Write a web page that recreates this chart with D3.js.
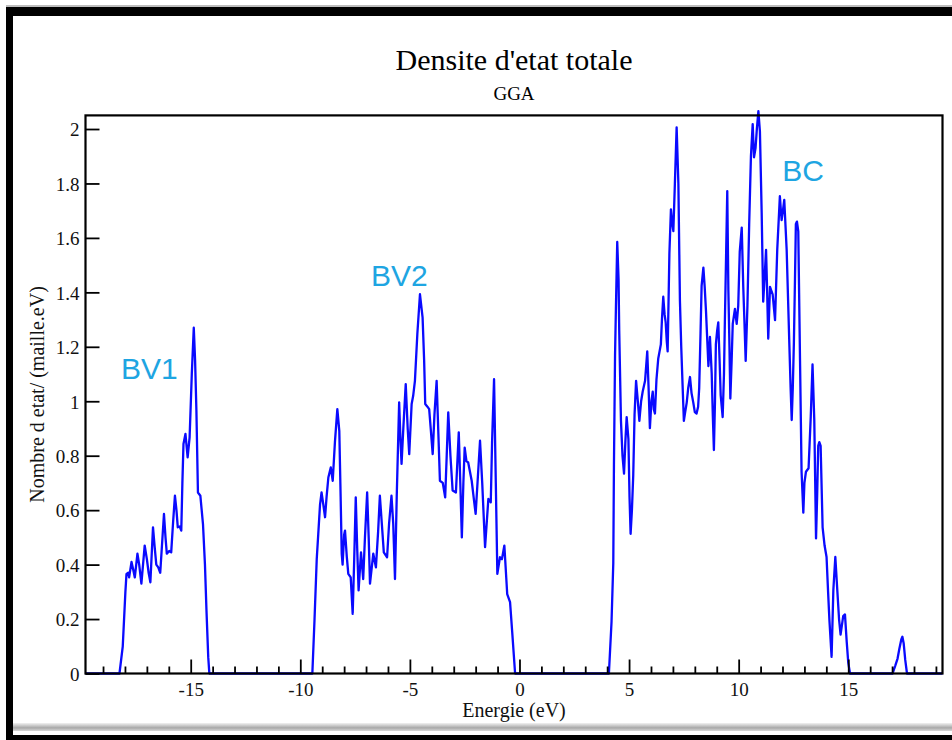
<!DOCTYPE html>
<html>
<head>
<meta charset="utf-8">
<script src="https://cdn.jsdelivr.net/npm/d3@7"></script>
<style>
  html, body { margin: 0; padding: 0; background: #fff; }
  svg { display: block; }
</style>
</head>
<body>
<svg id="chart" width="952" height="740"></svg>
<script>
// Total density of states (GGA), states / (cell.eV) versus energy (eV)

// Lower valence band
const bandBV1 = [
  [-18.25,0],[-18.1,0.1],[-17.98,0.3],[-17.93,0.366],[-17.85,0.37],[-17.81,0.353],
  [-17.70,0.41],[-17.62,0.38],[-17.55,0.353],[-17.43,0.44],[-17.35,0.40],[-17.25,0.33],
  [-17.1,0.47],[-17.0,0.42],[-16.92,0.37],[-16.84,0.335],[-16.72,0.537],[-16.65,0.47],
  [-16.57,0.40],[-16.48,0.39],[-16.39,0.37],[-16.22,0.586],[-16.15,0.50],[-16.09,0.44],
  [-15.98,0.45],[-15.89,0.445],[-15.80,0.56],[-15.72,0.653],[-15.65,0.60],[-15.59,0.537],
  [-15.5,0.54],[-15.43,0.525],[-15.38,0.70],[-15.33,0.843],[-15.24,0.88],[-15.14,0.794],
  [-15.05,0.867],[-14.95,1.10],[-14.86,1.27],[-14.80,1.15],[-14.74,0.965],[-14.67,0.665],
  [-14.56,0.653],[-14.44,0.549],[-14.35,0.40],[-14.28,0.23],[-14.20,0.06],[-14.15,0]
];

// Upper valence band
const bandBV2 = [
  [-9.45,0],[-9.35,0.2],[-9.25,0.42],[-9.18,0.513],[-9.1,0.62],[-9.03,0.665],[-8.95,0.62],
  [-8.87,0.574],[-8.80,0.65],[-8.72,0.72],[-8.61,0.757],[-8.52,0.708],[-8.42,0.85],
  [-8.31,0.971],[-8.22,0.89],[-8.16,0.65],[-8.11,0.44],[-8.07,0.40],[-8.0,0.51],
  [-7.96,0.525],[-7.88,0.43],[-7.81,0.366],[-7.70,0.353],[-7.61,0.219],[-7.54,0.42],
  [-7.47,0.647],[-7.40,0.45],[-7.34,0.305],[-7.23,0.445],[-7.13,0.347],[-7.05,0.50],
  [-6.95,0.665],[-6.88,0.50],[-6.82,0.33],[-6.67,0.44],[-6.55,0.39],[-6.45,0.52],
  [-6.37,0.653],[-6.28,0.55],[-6.19,0.445],[-6.04,0.427],[-5.95,0.55],[-5.84,0.653],
  [-5.76,0.55],[-5.68,0.347],[-5.60,0.65],[-5.49,0.996],[-5.43,0.86],[-5.38,0.77],
  [-5.30,0.90],[-5.19,1.063],[-5.10,0.90],[-5.03,0.806],[-4.92,0.99],[-4.85,1.02],
  [-4.77,1.075],[-4.66,1.247],[-4.54,1.393],[-4.42,1.307],[-4.35,1.15],[-4.30,0.99],
  [-4.20,0.98],[-4.12,0.971],[-4.05,0.90],[-3.96,0.806],[-3.88,0.95],[-3.78,1.075],
  [-3.70,0.88],[-3.63,0.708],[-3.50,0.70],[-3.39,0.647],[-3.32,0.80],[-3.25,0.959],
  [-3.15,0.80],[-3.05,0.672],[-2.90,0.665],[-2.77,0.886],[-2.70,0.70],[-2.63,0.50],
  [-2.56,0.70],[-2.50,0.83],[-2.42,0.78],[-2.34,0.775],[-2.18,0.708],[-2.08,0.64],
  [-2.00,0.586],[-1.90,0.72],[-1.80,0.855],[-1.70,0.70],[-1.57,0.464],[-1.42,0.641],
  [-1.31,0.629],[-1.25,0.85],[-1.16,1.081],[-1.08,0.70],[-1.01,0.366],[-0.89,0.427],
  [-0.80,0.42],[-0.69,0.47],[-0.56,0.292],[-0.43,0.262],[-0.33,0.15],[-0.20,0]
];

// Conduction band
const bandBC = [
  [4.08,0],[4.20,0.19],[4.28,0.406],[4.31,0.767],[4.36,1.169],[4.40,1.343],[4.46,1.585],
  [4.52,1.45],[4.55,1.263],[4.63,0.928],[4.70,0.80],[4.77,0.734],[4.83,0.85],[4.89,0.942],
  [4.97,0.861],[5.02,0.65],[5.07,0.513],[5.13,0.60],[5.19,0.727],[5.25,0.95],[5.32,1.075],
  [5.40,1.00],[5.47,0.928],[5.55,1.00],[5.62,1.035],[5.73,1.075],[5.83,1.183],[5.89,1.05],
  [5.95,0.901],[6.02,1.00],[6.08,1.035],[6.13,0.97],[6.18,0.955],[6.25,1.08],[6.33,1.156],
  [6.45,1.209],[6.50,1.30],[6.56,1.384],[6.62,1.32],[6.67,1.29],[6.72,1.22],[6.76,1.183],
  [6.84,1.544],[6.91,1.705],[6.96,1.66],[7.02,1.625],[7.09,1.799],[7.17,2.006],[7.25,1.799],
  [7.32,1.37],[7.38,1.20],[7.44,1.062],[7.50,0.928],[7.56,0.96],[7.63,0.995],[7.70,1.05],
  [7.78,1.089],[7.85,1.03],[7.93,0.995],[8.00,0.96],[8.08,0.955],[8.15,0.98],[8.20,1.049],
  [8.26,1.25],[8.31,1.424],[8.39,1.491],[8.45,1.42],[8.51,1.33],[8.57,1.22],[8.62,1.129],
  [8.69,1.236],[8.77,1.102],[8.82,0.95],[8.87,0.821],[8.92,1.00],[8.96,1.209],[9.02,1.26],
  [9.07,1.29],[9.13,1.15],[9.18,1.022],[9.27,0.942],[9.33,1.10],[9.37,1.29],[9.43,1.55],
  [9.48,1.772],[9.53,1.41],[9.58,1.20],[9.62,1.01],[9.68,1.15],[9.73,1.284],[9.83,1.339],
  [9.91,1.284],[9.98,1.35],[10.05,1.55],[10.14,1.638],[10.21,1.42],[10.26,1.30],
  [10.32,1.148],[10.40,1.35],[10.48,1.65],[10.56,1.90],[10.64,2.018],[10.70,1.896],
  [10.77,1.93],[10.83,2.00],[10.90,2.066],[10.97,1.991],[11.05,1.692],[11.12,1.366],
  [11.18,1.45],[11.25,1.556],[11.30,1.40],[11.35,1.23],[11.43,1.42],[11.55,1.393],
  [11.60,1.35],[11.66,1.298],[11.76,1.556],[11.88,1.753],[11.96,1.665],[12.02,1.70],
  [12.08,1.74],[12.19,1.556],[12.31,1.216],[12.37,1.05],[12.42,0.931],[12.47,1.05],
  [12.52,1.216],[12.57,1.45],[12.61,1.651],[12.66,1.66],[12.72,1.624],[12.80,1.148],
  [12.87,0.741],[12.95,0.591],[13.00,0.70],[13.07,0.741],[13.19,0.754],[13.29,0.945],
  [13.37,1.135],[13.45,0.931],[13.53,0.496],[13.58,0.65],[13.63,0.836],[13.68,0.85],
  [13.74,0.836],[13.83,0.537],[13.92,0.47],[14.01,0.428],[14.08,0.30],[14.14,0.197],
  [14.24,0.061],[14.32,0.306],[14.41,0.428],[14.50,0.306],[14.58,0.20],[14.65,0.143],
  [14.77,0.211],[14.85,0.217],[14.93,0.116],[15.00,0.04],[15.08,0]
];

// Isolated state above the conduction band
const bandHigh = [
  [17.02,0],[17.15,0.03],[17.25,0.055],[17.33,0.09],[17.42,0.125],[17.47,0.135],
  [17.53,0.11],[17.60,0.05],[17.68,0]
];

const energyDomain = [-19.8, 19.3];
const dosDomain = [0, 2.05];
const xMajorTicks = [-15, -10, -5, 0, 5, 10, 15];
const xTickLabels = ["-15", "-10", "-5", "0", "5", "10", "15"];
const xMinorTicks = [-19,-18,-17,-16,-14,-13,-12,-11,-9,-8,-7,-6,-4,-3,-2,-1,
                     1,2,3,4,6,7,8,9,11,12,13,14,16,17,18,19];
const yTicks = [0, 0.2, 0.4, 0.6, 0.8, 1, 1.2, 1.4, 1.6, 1.8, 2];
const yTickLabels = ["0", "0.2", "0.4", "0.6", "0.8", "1", "1.2", "1.4", "1.6", "1.8", "2"];

const titleText = "Densite d'etat totale";
const subtitleText = "GGA";
const xLabelText = "Energie (eV)";
const yLabelText = "Nombre d etat/ (maille.eV)";

// band names, anchored in energy / DOS units (left end of the text baseline)
const bandLabels = [
  { text: "BV1", energy: -18.18, dos: 1.08 },
  { text: "BV2", energy: -6.77, dos: 1.425 },
  { text: "BC",  energy: 11.99, dos: 1.81 }
];

// ---------------------------------------------------------------------------
const svg = d3.select("#chart");
const W = 952, H = 740;
const plot = { left: 85.5, right: 942.5, top: 115.4, bottom: 673.5 };

const serif = "'Liberation Serif', 'Times New Roman', serif";
const sans = "'Liberation Sans', Arial, sans-serif";

// window frame around the figure
svg.append("rect").attr("x", 0).attr("y", 0).attr("width", W).attr("height", H).attr("fill", "#fff");
const grad = svg.append("defs").append("linearGradient")
  .attr("id", "shadow").attr("x1", 0).attr("y1", 0).attr("x2", 0).attr("y2", 1);
grad.append("stop").attr("offset", "0%").attr("stop-color", "#f2f2f2");
grad.append("stop").attr("offset", "60%").attr("stop-color", "#a8a8a8");
grad.append("stop").attr("offset", "100%").attr("stop-color", "#d8d8d8");
svg.append("rect").attr("x", 13).attr("y", 723).attr("width", W - 13).attr("height", 8).attr("fill", "url(#shadow)");
svg.append("rect").attr("x", 6).attr("y", 5).attr("width", W - 6).attr("height", 2).attr("fill", "#bdbdbd");
svg.append("rect").attr("x", 6).attr("y", 7).attr("width", W - 6).attr("height", 9).attr("fill", "#000");
svg.append("rect").attr("x", 6).attr("y", 7).attr("width", 7).attr("height", H - 7).attr("fill", "#000");
svg.append("rect").attr("x", 6).attr("y", 735).attr("width", W - 6).attr("height", 5).attr("fill", "#000");

const x = d3.scaleLinear().domain(energyDomain).range([plot.left, plot.right]);
const y = d3.scaleLinear().domain(dosDomain).range([plot.bottom, plot.top]);

// full DOS curve: zero between the bands
const series = [[energyDomain[0], 0]]
  .concat(bandBV1, bandBV2, bandBC, bandHigh, [[energyDomain[1], 0]]);

const line = d3.line().x(d => x(d[0])).y(d => y(d[1]));

svg.append("path")
  .datum(series)
  .attr("d", line)
  .attr("fill", "none")
  .attr("stroke", "#0a0aff")
  .attr("stroke-width", 2.3)
  .attr("stroke-linejoin", "round");

// plot frame
svg.append("rect")
  .attr("x", plot.left).attr("y", plot.top)
  .attr("width", plot.right - plot.left).attr("height", plot.bottom - plot.top)
  .attr("fill", "none").attr("stroke", "#000").attr("stroke-width", 2.2);

// axes (ticks pointing inward)
const xAxis = d3.axisBottom(x).tickValues(xMajorTicks).tickSize(-14).tickPadding(9)
  .tickFormat((d, i) => xTickLabels[i]);
const gx = svg.append("g").attr("transform", `translate(0,${plot.bottom})`).call(xAxis);
const xMinor = d3.axisBottom(x).tickValues(xMinorTicks).tickSize(-7).tickFormat("");
const gxm = svg.append("g").attr("transform", `translate(0,${plot.bottom})`).call(xMinor);

const yAxis = d3.axisLeft(y).tickValues(yTicks).tickSize(-14).tickPadding(6)
  .tickFormat((d, i) => yTickLabels[i]);
const gy = svg.append("g").attr("transform", `translate(${plot.left},0)`).call(yAxis);

[gx, gxm, gy].forEach(g => {
  g.select(".domain").remove();
  g.selectAll(".tick line").attr("stroke", "#000").attr("stroke-width", 1.8);
  g.selectAll(".tick text")
    .attr("font-family", serif).attr("font-size", 19).attr("fill", "#111");
});
gy.selectAll(".tick text").attr("dy", "0.36em");

// titles
const cx = (plot.left + plot.right) / 2;
svg.append("text").attr("x", cx).attr("y", 70).attr("text-anchor", "middle")
  .attr("font-family", serif).attr("font-size", 30).attr("fill", "#000").text(titleText);
svg.append("text").attr("x", cx).attr("y", 100).attr("text-anchor", "middle")
  .attr("font-family", serif).attr("font-size", 19).attr("fill", "#000").text(subtitleText);
svg.append("text").attr("x", cx).attr("y", 717).attr("text-anchor", "middle")
  .attr("font-family", serif).attr("font-size", 20).attr("fill", "#111").text(xLabelText);
svg.append("text")
  .attr("transform", `translate(44,${(plot.top + plot.bottom) / 2}) rotate(-90)`)
  .attr("text-anchor", "middle")
  .attr("font-family", serif).attr("font-size", 20).attr("fill", "#111").text(yLabelText);

// band names
svg.selectAll(".band-label").data(bandLabels).enter().append("text")
  .attr("class", "band-label")
  .attr("x", d => x(d.energy)).attr("y", d => y(d.dos))
  .attr("font-family", sans).attr("font-size", 30).attr("fill", "#1ea5e2")
  .text(d => d.text);
</script>
</body>
</html>
